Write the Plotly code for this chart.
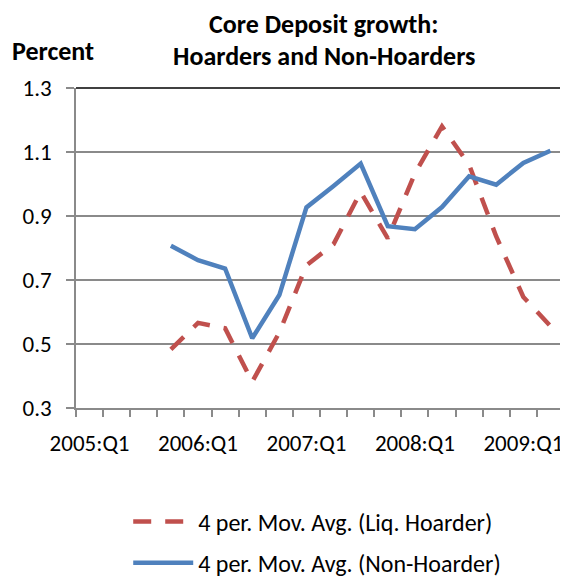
"""Core deposit growth: hoarders vs non-hoarders (4 period moving averages)."""

import plotly.graph_objects as go

# ── Data ──────────────────────────────────────────────────────────────────────
QUARTERS = [
    "2005:Q1", "2005:Q2", "2005:Q3", "2005:Q4",
    "2006:Q1", "2006:Q2", "2006:Q3", "2006:Q4",
    "2007:Q1", "2007:Q2", "2007:Q3", "2007:Q4",
    "2008:Q1", "2008:Q2", "2008:Q3", "2008:Q4",
    "2009:Q1", "2009:Q2",
]

LIQ_HOARDER = [
    None, None, None, 0.483,
    0.566, 0.549, 0.382, 0.536,
    0.746, 0.812, 0.975, 0.830,
    1.033, 1.180, 1.060, 0.836,
    0.647, 0.556,
]

NON_HOARDER = [
    None, None, None, 0.807,
    0.762, 0.736, 0.518, 0.653,
    0.927, 0.994, 1.064, 0.868,
    0.859, 0.928, 1.024, 0.998,
    1.066, 1.104,
]

Y_TICKS = [0.3, 0.5, 0.7, 0.9, 1.1, 1.3]
LABEL_EVERY = 4

_FONT = "Calibri, Carlito, Lato, sans-serif"
_RED = "#C0504D"
_BLUE = "#4F81BD"
_GRID = "#8a8a8a"

x = list(range(len(QUARTERS)))

fig = go.Figure()
fig.add_trace(go.Scatter(
    x=x, y=LIQ_HOARDER,
    mode="lines",
    name="4 per. Mov. Avg. (Liq. Hoarder)",
    line=dict(color=_RED, width=4.5, dash="18px,14px"),
    legendgroup="a",
))
fig.add_trace(go.Scatter(
    x=x, y=NON_HOARDER,
    mode="lines",
    name="4 per. Mov. Avg. (Non-Hoarder)",
    line=dict(color=_BLUE, width=4.5),
    legendgroup="b",
))

# page body keeps its default 8px margin -> figure is 8px smaller than window
fig.update_layout(
    width=560, height=572,
    paper_bgcolor="white",
    plot_bgcolor="white",
    margin=dict(l=68, r=4, t=80, b=172, autoexpand=False),
    font=dict(family=_FONT, size=23, color="black"),
    showlegend=True,
    legend=dict(
        x=0.107, y=-0.286,
        xanchor="left", yanchor="top",
        traceorder="grouped",
        tracegroupgap=7,
        itemwidth=60,
        font=dict(size=24),
        bgcolor="rgba(0,0,0,0)",
    ),
)

fig.update_xaxes(
    range=[-0.5, len(QUARTERS) - 0.5],
    tickvals=x[::LABEL_EVERY],
    ticktext=QUARTERS[::LABEL_EVERY],
    ticks="",
    ticklabelstandoff=14,
    tickfont=dict(size=23),
    showgrid=False,
    zeroline=False,
    showline=True, linecolor=_GRID, linewidth=1.5,
    minor=dict(
        tickvals=[i - 0.5 for i in range(len(QUARTERS) + 1)],
        ticks="outside", ticklen=7, tickcolor=_GRID, tickwidth=1.5,
        showgrid=False,
    ),
)
fig.update_yaxes(
    range=[Y_TICKS[0], Y_TICKS[-1]],
    tickvals=Y_TICKS,
    tickformat=".1f",
    ticks="outside", ticklen=8, tickcolor=_GRID, tickwidth=1.5,
    ticklabelstandoff=10,
    tickfont=dict(size=23),
    showgrid=True, gridcolor=_GRID, gridwidth=1.5,
    zeroline=False,
    showline=True, linecolor=_GRID, linewidth=1.5,
)

# plot-area outline on top / right in black
for x0, y0, x1, y1 in [(0, 1, 1, 1), (1, 0, 1, 1)]:
    fig.add_shape(type="line", xref="paper", yref="paper",
                  x0=x0, y0=y0, x1=x1, y1=y1,
                  line=dict(color="black", width=1.5), layer="below")

# ── Titles ────────────────────────────────────────────────────────────────────
fig.add_annotation(text="<b>Core Deposit growth:</b>", xref="paper", yref="paper",
                   x=0.508, y=1.199, xanchor="center", yanchor="middle",
                   showarrow=False, borderpad=0, font=dict(size=26))
fig.add_annotation(text="<b>Hoarders and Non-Hoarders</b>", xref="paper", yref="paper",
                   x=0.508, y=1.099, xanchor="center", yanchor="middle",
                   showarrow=False, borderpad=0, font=dict(size=26))
fig.add_annotation(text="<b>Percent</b>", xref="paper", yref="paper",
                   x=-0.133, y=1.1146, xanchor="left", yanchor="middle",
                   showarrow=False, borderpad=0, font=dict(size=26))

fig.write_html("out.html")
